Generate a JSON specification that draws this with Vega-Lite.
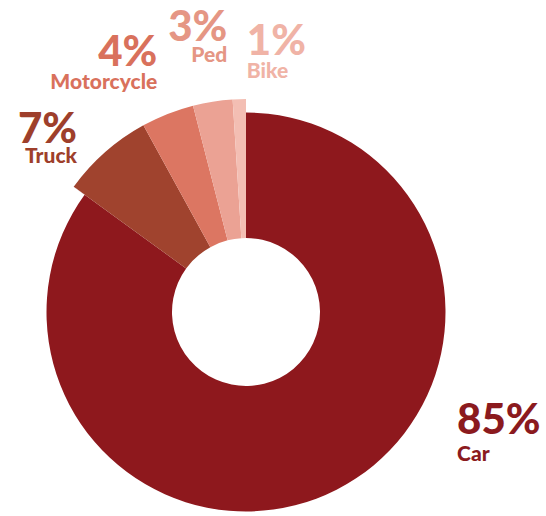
{
  "$schema": "https://vega.github.io/schema/vega-lite/v6.json",
  "width": 492,
  "height": 416,
  "autosize": {"type": "none"},
  "padding": {"left": 0, "top": 104, "right": 54, "bottom": 0},
  "background": "white",
  "view": {"stroke": null},
  "data": {
    "values": [
      {"category": "Car", "share": 0.85, "order": 1},
      {"category": "Truck", "share": 0.07, "order": 2},
      {"category": "Motorcycle", "share": 0.04, "order": 3},
      {"category": "Ped", "share": 0.03, "order": 4},
      {"category": "Bike", "share": 0.01, "order": 5}
    ]
  },
  "encoding": {
    "theta": {"field": "share", "type": "quantitative", "stack": true},
    "order": {"field": "order", "type": "quantitative"}
  },
  "layer": [
    {
      "mark": {"type": "arc", "innerRadius": 74, "outerRadius": 213},
      "encoding": {
        "color": {
          "field": "category",
          "type": "nominal",
          "scale": {
            "domain": ["Car", "Truck", "Motorcycle", "Ped", "Bike"],
            "range": ["#8E181D", "#A0432E", "#DC7662", "#EBA294", "#F3BEB3"]
          },
          "legend": null
        }
      }
    },
    {
      "mark": {"type": "arc", "innerRadius": 199.5, "outerRadius": 222},
      "encoding": {
        "color": {"value": "white"},
        "opacity": {"condition": {"test": "datum.category === 'Car'", "value": 1}, "value": 0}
      }
    },
    {
      "mark": {
        "type": "text",
        "radius": 260,
        "fontSize": 42,
        "font": "Lato",
        "fontWeight": 900,
        "baseline": "middle",
        "align": {"expr": "datum.category === 'Car' || datum.category === 'Bike' ? 'left' : 'right'"},
        "dx": {"expr": "{'Car': 93, 'Truck': 3, 'Motorcycle': 7, 'Ped': 22, 'Bike': 9}[datum.category]"},
        "dy": {"expr": "{'Car': -123, 'Truck': 13, 'Motorcycle': -17, 'Ped': -27, 'Bike': -10}[datum.category]"}
      },
      "encoding": {
        "text": {"field": "share", "type": "quantitative", "format": ".0%"},
        "color": {
          "field": "category",
          "type": "nominal",
          "scale": {
            "domain": ["Car", "Truck", "Motorcycle", "Ped", "Bike"],
            "range": ["#8B1A1E", "#9E3F2B", "#D9715C", "#E59684", "#F0B3A6"]
          },
          "legend": null
        }
      }
    },
    {
      "mark": {
        "type": "text",
        "radius": 260,
        "fontSize": 21,
        "font": "Lato",
        "fontWeight": 900,
        "baseline": "middle",
        "align": {"expr": "datum.category === 'Car' || datum.category === 'Bike' ? 'left' : 'right'"},
        "dx": {"expr": "{'Car': 93, 'Truck': 3, 'Motorcycle': 7, 'Ped': 22, 'Bike': 9}[datum.category]"},
        "dy": {"expr": "{'Car': -89, 'Truck': 40, 'Motorcycle': 13, 'Ped': 1, 'Bike': 20}[datum.category]"}
      },
      "encoding": {
        "text": {"field": "category", "type": "nominal"},
        "color": {
          "field": "category",
          "type": "nominal",
          "scale": {
            "domain": ["Car", "Truck", "Motorcycle", "Ped", "Bike"],
            "range": ["#8B1A1E", "#9E3F2B", "#D9715C", "#E59684", "#F0B3A6"]
          },
          "legend": null
        }
      }
    }
  ],
  "resolve": {"scale": {"color": "independent"}}
}
